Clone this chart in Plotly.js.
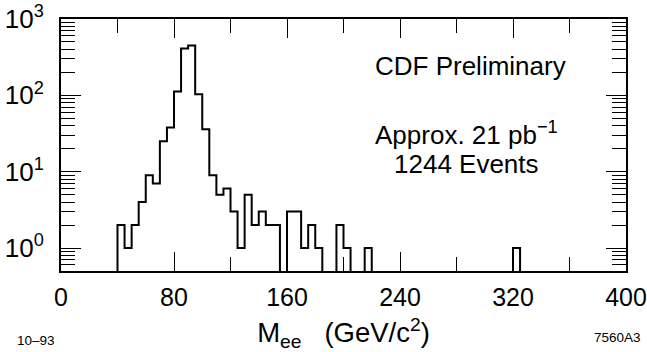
<!DOCTYPE html>
<html>
<head>
<meta charset="utf-8">
<script src="https://cdn.plot.ly/plotly-3.0.1.min.js"></script>
<style>
html, body { margin: 0; padding: 0; background: #fff; }
#chart { width: 647px; height: 352px; }
</style>
</head>
<body>
<div id="chart"></div>
<script>
// Histogram of M_ee, 5 GeV bins starting at 40 GeV
var binStart = 40;
var binWidth = 5;
var counts = [2, 1, 2, 4, 9, 7, 25, 38, 112, 410, 450, 103, 36, 9, 5, 6, 3, 1, 5, 2,
              3, 2, 2, 0, 3, 3, 1, 2, 1, 0, 0, 2, 1, 0, 0, 1, 0, 0, 0, 0,
              0, 0, 0, 0, 0, 0, 0, 0, 0, 0, 0, 0, 0, 0, 0, 0, 1];
var xTickVals = [0, 80, 160, 240, 320, 400];
var yTickVals = [1, 10, 100, 1000];
var yTickText = ['10<sup>0</sup>', '10<sup>1</sup>', '10<sup>2</sup>', '10<sup>3</sup>'];

// build the step outline from the counts
var floorVal = 0.01; // below visible range, for empty bins
var xs = [binStart], ys = [floorVal];
for (var i = 0; i < counts.length; i++) {
  xs.push(binStart + i * binWidth);
  ys.push(counts[i] > 0 ? counts[i] : floorVal);
}
xs.push(binStart + counts.length * binWidth);
ys.push(floorVal);

// minor tick positions
var yMinor = [];
for (var d = -1; d < 3; d++) for (var m = 2; m <= 9; m++) {
  var v = m * Math.pow(10, d);
  if (v >= 0.5) yMinor.push(v);
}
var xMinor = [40, 120, 200, 280, 360];

var font = 'Liberation Sans, Arial, Helvetica, sans-serif';

var trace = {
  x: xs, y: ys, type: 'scatter', mode: 'lines',
  line: { shape: 'hv', color: '#000', width: 2 },
  hoverinfo: 'skip'
};

var layout = {
  width: 647, height: 352,
  margin: { l: 61, r: 21, t: 19, b: 81 },
  paper_bgcolor: '#fff', plot_bgcolor: '#fff',
  showlegend: false,
  font: { family: font, color: '#000', size: 26 },
  xaxis: {
    range: [0, 400],
    tickmode: 'array', tickvals: xTickVals,
    ticks: 'inside', ticklen: 19, tickwidth: 1, tickcolor: '#000',
    showline: true, linewidth: 2, linecolor: '#000', mirror: 'allticks',
    showgrid: false, zeroline: false,
    tickfont: { family: font, size: 25, color: '#000' },
    ticklabelstandoff: 3,
    minor: { tickmode: 'array', tickvals: xMinor, ticks: 'inside', ticklen: 14, tickwidth: 1, tickcolor: '#000', showgrid: false },
    title: { text: 'M<sub>ee</sub>\u00a0\u00a0 (GeV/c<sup>2</sup>)', font: { family: font, size: 27.5, color: '#000' } }
  },
  yaxis: {
    type: 'log',
    range: [Math.log10(0.5), 3],
    tickmode: 'array', tickvals: yTickVals, ticktext: yTickText,
    ticks: 'inside', ticklen: 20, tickwidth: 1, tickcolor: '#000',
    showline: true, linewidth: 2, linecolor: '#000', mirror: 'allticks',
    showgrid: false, zeroline: false,
    tickfont: { family: font, size: 26, color: '#000' },
    ticklabelstandoff: 10,
    minor: { tickmode: 'array', tickvals: yMinor, ticks: 'inside', ticklen: 14, tickwidth: 1, tickcolor: '#000', showgrid: false }
  },
  annotations: [
    { xref: 'paper', yref: 'paper', x: 0.724, y: 0.815, xanchor: 'center', yanchor: 'middle',
      text: 'CDF Preliminary', showarrow: false, font: { family: font, size: 26, color: '#000' } },
    { xref: 'paper', yref: 'paper', x: 0.717, y: 0.545, xanchor: 'center', yanchor: 'middle',
      text: 'Approx. 21 pb<sup>\u22121</sup>', showarrow: false, font: { family: font, size: 26, color: '#000' } },
    { xref: 'paper', yref: 'paper', x: 0.717, y: 0.425, xanchor: 'center', yanchor: 'middle',
      text: '1244 Events', showarrow: false, font: { family: font, size: 26, color: '#000' } },
    { xref: 'paper', yref: 'paper', x: -0.082, y: -0.275, xanchor: 'left', yanchor: 'middle',
      text: '10\u201393', showarrow: false, font: { family: font, size: 13.5, color: '#000' } },
    { xref: 'paper', yref: 'paper', x: 1.03, y: -0.265, xanchor: 'right', yanchor: 'middle',
      text: '7560A3', showarrow: false, font: { family: font, size: 13.5, color: '#000' } }
  ]
};

Plotly.newPlot('chart', [trace], layout, { displayModeBar: false, staticPlot: true });
</script>
</body>
</html>
